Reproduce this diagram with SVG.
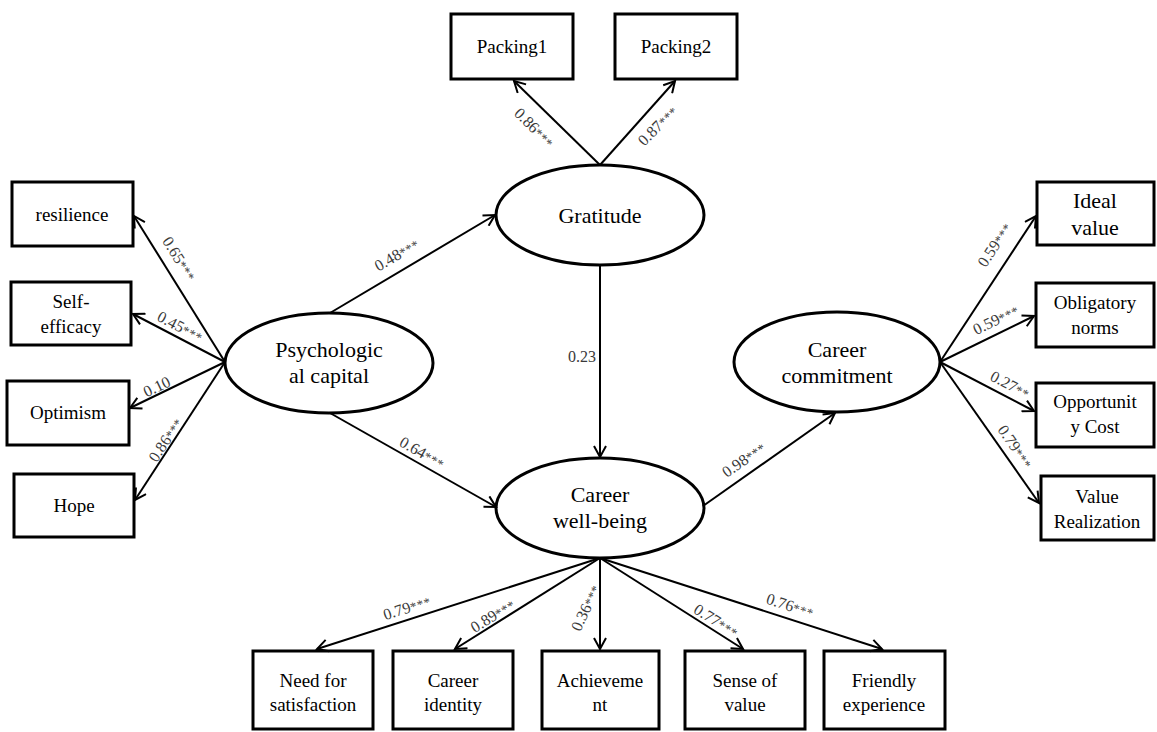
<svg xmlns="http://www.w3.org/2000/svg" width="1157" height="732" viewBox="0 0 1157 732" font-family="Liberation Serif, Times New Roman, serif">
<style>
.box{fill:#fff;stroke:#000;stroke-width:3}
.lat{fill:#fff;stroke:#000;stroke-width:3}
.t{font-size:19px;fill:#000;text-anchor:middle}
.tb{font-size:22px;fill:#000;text-anchor:middle}
.e{stroke:#000;stroke-width:2;fill:none;marker-end:url(#ah)}
.lb{font-size:16px;fill:#3a3a3a;text-anchor:middle}
.st{font-size:13px;letter-spacing:0.5px}
</style>
<defs>
<marker id="ah" markerWidth="14" markerHeight="14" refX="12" refY="7" orient="auto" markerUnits="userSpaceOnUse">
<path d="M1,1 L12,7 L1,13" fill="none" stroke="#000" stroke-width="2"/>
</marker>
</defs>
<rect width="1157" height="732" fill="#fff"/>

<g id="packing1"><rect class="box" x="451" y="14" width="122" height="65"/><text class="t" x="512" y="53">Packing1</text></g>
<g id="packing2"><rect class="box" x="615" y="14" width="122" height="65"/><text class="t" x="676" y="53">Packing2</text></g>

<g id="resilience"><rect class="box" x="12" y="182" width="121" height="64"/><text class="t" x="72" y="221">resilience</text></g>
<g id="self-efficacy"><rect class="box" x="11" y="282" width="120" height="63"/><text class="t" x="71" y="308">Self-</text><text class="t" x="71" y="333">efficacy</text></g>
<g id="optimism"><rect class="box" x="7" y="381" width="122" height="64"/><text class="t" x="68" y="419">Optimism</text></g>
<g id="hope"><rect class="box" x="14" y="474" width="120" height="63"/><text class="t" x="74" y="512">Hope</text></g>

<g id="ideal-value"><rect class="box" x="1037" y="182" width="117" height="63"/><text class="tb" x="1095" y="208">Ideal</text><text class="tb" x="1095" y="235">value</text></g>
<g id="obligatory-norms"><rect class="box" x="1036" y="283" width="118" height="64"/><text class="t" x="1095" y="309">Obligatory</text><text class="t" x="1095" y="334">norms</text></g>
<g id="opportunity-cost"><rect class="box" x="1036" y="383" width="118" height="64"/><text class="t" x="1095" y="408">Opportunit</text><text class="t" x="1095" y="433">y Cost</text></g>
<g id="value-realization"><rect class="box" x="1041" y="476" width="113" height="64"/><text class="t" x="1097" y="503">Value</text><text class="t" x="1097" y="528">Realization</text></g>

<g id="need-for-satisfaction"><rect class="box" x="253" y="651" width="120" height="78"/><text class="t" x="313" y="687">Need for</text><text class="t" x="313" y="711">satisfaction</text></g>
<g id="career-identity"><rect class="box" x="393" y="651" width="120" height="78"/><text class="t" x="453" y="687">Career</text><text class="t" x="453" y="711">identity</text></g>
<g id="achievement"><rect class="box" x="542" y="651" width="117" height="78"/><text class="t" x="600" y="687">Achieveme</text><text class="t" x="600" y="711">nt</text></g>
<g id="sense-of-value"><rect class="box" x="685" y="651" width="120" height="78"/><text class="t" x="745" y="687">Sense of</text><text class="t" x="745" y="711">value</text></g>
<g id="friendly-experience"><rect class="box" x="824" y="651" width="121" height="78"/><text class="t" x="884" y="687">Friendly</text><text class="t" x="884" y="711">experience</text></g>

<g id="gratitude"><ellipse class="lat" cx="600" cy="215" rx="104" ry="50"/><text class="tb" x="600" y="223">Gratitude</text></g>
<g id="psychological-capital"><ellipse class="lat" cx="329" cy="363" rx="104" ry="50"/><text class="tb" x="329" y="357">Psychologic</text><text class="tb" x="329" y="383">al capital</text></g>
<g id="career-commitment"><ellipse class="lat" cx="837" cy="362" rx="103" ry="50"/><text class="tb" x="837" y="357">Career</text><text class="tb" x="837" y="383">commitment</text></g>
<g id="career-well-being"><ellipse class="lat" cx="600" cy="508" rx="104" ry="50"/><text class="tb" x="600" y="502">Career</text><text class="tb" x="600" y="528">well-being</text></g>

<g id="connectors">
<line class="e" x1="600" y1="165" x2="514" y2="81"/>
<line class="e" x1="600" y1="165" x2="675" y2="81"/>
<line class="e" x1="225" y1="362" x2="134" y2="216"/>
<line class="e" x1="225" y1="362" x2="133" y2="314"/>
<line class="e" x1="225" y1="362" x2="130" y2="408"/>
<line class="e" x1="225" y1="362" x2="135" y2="500"/>
<line class="e" x1="330" y1="313" x2="495" y2="215"/>
<line class="e" x1="330" y1="413" x2="496" y2="507"/>
<line class="e" x1="600" y1="265" x2="600" y2="457"/>
<line class="e" x1="703" y1="506" x2="835" y2="413"/>
<line class="e" x1="940" y1="362" x2="1036" y2="216"/>
<line class="e" x1="940" y1="362" x2="1034" y2="316"/>
<line class="e" x1="940" y1="362" x2="1034" y2="411"/>
<line class="e" x1="940" y1="362" x2="1039" y2="503"/>
<line class="e" x1="600" y1="558" x2="317" y2="649"/>
<line class="e" x1="600" y1="558" x2="455" y2="649"/>
<line class="e" x1="600" y1="558" x2="600" y2="649"/>
<line class="e" x1="600" y1="558" x2="743" y2="649"/>
<line class="e" x1="600" y1="558" x2="882" y2="649"/>
</g>

<g id="edge-labels">
<text class="lb" transform="translate(534,128) rotate(45)" y="5">0.86<tspan class="st">***</tspan></text>
<text class="lb" transform="translate(658,126) rotate(-45)" y="5">0.87<tspan class="st">***</tspan></text>
<text class="lb" transform="translate(179,259) rotate(57.6)" y="5">0.65<tspan class="st">***</tspan></text>
<text class="lb" transform="translate(180,327) rotate(27.6)" y="5">0.45<tspan class="st">***</tspan></text>
<text class="lb" transform="translate(157,387) rotate(-25.8)" y="5">0.10</text>
<text class="lb" transform="translate(166,440) rotate(-56.6)" y="5">0.86<tspan class="st">***</tspan></text>
<text class="lb" transform="translate(397,255) rotate(-30.4)" y="5">0.48<tspan class="st">***</tspan></text>
<text class="lb" transform="translate(422,453) rotate(29.7)" y="5">0.64<tspan class="st">***</tspan></text>
<text class="lb" x="582" y="362">0.23</text>
<text class="lb" transform="translate(744,460) rotate(-34.9)" y="5">0.98<tspan class="st">***</tspan></text>
<text class="lb" transform="translate(995,245) rotate(-56.8)" y="5">0.59<tspan class="st">***</tspan></text>
<text class="lb" transform="translate(996,320) rotate(-26.3)" y="5">0.59<tspan class="st">***</tspan></text>
<text class="lb" transform="translate(1010,385) rotate(27.8)" y="5">0.27<tspan class="st">**</tspan></text>
<text class="lb" transform="translate(1015,447) rotate(55.5)" y="5">0.79<tspan class="st">***</tspan></text>
<text class="lb" transform="translate(407,608) rotate(-17.6)" y="5">0.79<tspan class="st">***</tspan></text>
<text class="lb" transform="translate(493,616) rotate(-31.8)" y="5">0.89<tspan class="st">***</tspan></text>
<text class="lb" transform="translate(586,608) rotate(-65)" y="5">0.36<tspan class="st">***</tspan></text>
<text class="lb" transform="translate(716,621) rotate(32.2)" y="5">0.77<tspan class="st">***</tspan></text>
<text class="lb" transform="translate(790,606) rotate(17.7)" y="5">0.76<tspan class="st">***</tspan></text>
</g>
</svg>
